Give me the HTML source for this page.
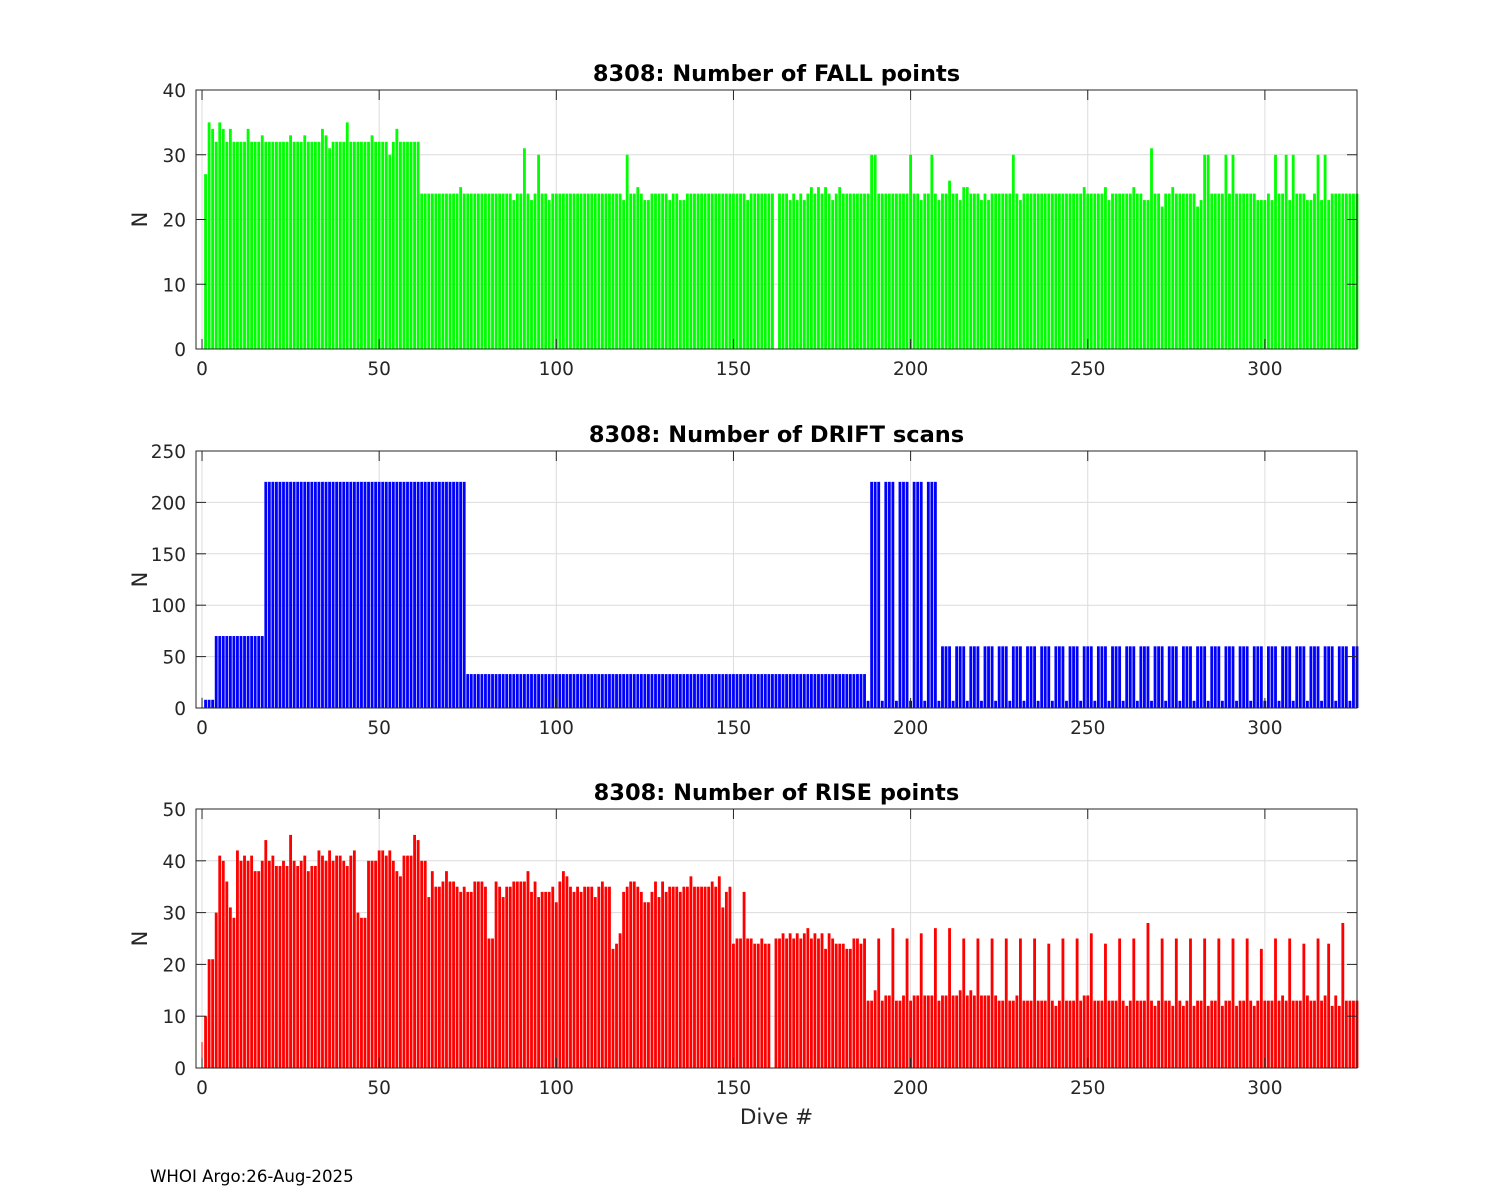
<!DOCTYPE html>
<html><head><meta charset="utf-8">
<style>
html,body{margin:0;padding:0;background:#fff;}
svg{display:block;font-family:"DejaVu Sans","Liberation Sans",sans-serif;}
</style></head>
<body>
<svg id="fig" width="1500" height="1200" viewBox="0 0 1500 1200" xmlns="http://www.w3.org/2000/svg">
<rect width="1500" height="1200" fill="#fff"/>
<text x="150" y="1182" font-size="16.6" fill="#000">WHOI Argo:26-Aug-2025</text>
</svg>
<script>
const xTicks = [0,50,100,150,200,250,300];
const fallTicks = [0,10,20,30,40];
const driftTicks = [0,50,100,150,200,250];
const riseTicks = [0,10,20,30,40,50];

const fallValues = [
0,27,35,34,32,35,34,32,34,32,32,32,32,34,32,32,32,33,32,32,
32,32,32,32,32,33,32,32,32,33,32,32,32,32,34,33,31,32,32,32,
32,35,32,32,32,32,32,32,33,32,32,32,32,30,32,34,32,32,32,32,
32,32,24,24,24,24,24,24,24,24,24,24,24,25,24,24,24,24,24,24,
24,24,24,24,24,24,24,24,23,24,24,31,24,23,24,30,24,24,23,24,
24,24,24,24,24,24,24,24,24,24,24,24,24,24,24,24,24,24,24,23,
30,24,24,25,24,23,23,24,24,24,24,24,23,24,24,23,23,24,24,24,
24,24,24,24,24,24,24,24,24,24,24,24,24,24,23,24,24,24,24,24,
24,24,0,24,24,24,23,24,23,24,23,24,25,24,25,24,25,24,23,24,
25,24,24,24,24,24,24,24,24,30,30,24,24,24,24,24,24,24,24,24,
30,24,24,23,24,24,30,24,23,24,24,26,24,24,23,25,25,24,24,24,
23,24,23,24,24,24,24,24,24,30,24,23,24,24,24,24,24,24,24,24,
24,24,24,24,24,24,24,24,24,25,24,24,24,24,24,25,23,24,24,24,
24,24,24,25,24,24,23,23,31,24,24,22,24,24,25,24,24,24,24,24,
24,22,23,30,30,24,24,24,24,30,24,30,24,24,24,24,24,24,23,23,
23,24,23,30,24,24,30,23,30,24,24,24,23,23,24,30,23,30,23,24,
24,24,24,24,24,24,24];

const driftValues = [
10,8,8,8,70,70,70,70,70,70,70,70,70,70,70,70,70,70,220,220,
220,220,220,220,220,220,220,220,220,220,220,220,220,220,220,220,220,220,220,220,
220,220,220,220,220,220,220,220,220,220,220,220,220,220,220,220,220,220,220,220,
220,220,220,220,220,220,220,220,220,220,220,220,220,220,220,33,33,33,33,33,
33,33,33,33,33,33,33,33,33,33,33,33,33,33,33,33,33,33,33,33,
33,33,33,33,33,33,33,33,33,33,33,33,33,33,33,33,33,33,33,33,
33,33,33,33,33,33,33,33,33,33,33,33,33,33,33,33,33,33,33,33,
33,33,33,33,33,33,33,33,33,33,33,33,33,33,33,33,33,33,33,33,
33,33,33,33,33,33,33,33,33,33,33,33,33,33,33,33,33,33,33,33,
33,33,33,33,33,33,33,33,7,220,220,220,7,220,220,220,7,220,220,220,
7,220,220,220,7,220,220,220,7,60,60,60,7,60,60,60,7,60,60,60,
7,60,60,60,7,60,60,60,7,60,60,60,7,60,60,60,7,60,60,60,
7,60,60,60,7,60,60,60,7,60,60,60,7,60,60,60,7,60,60,60,
7,60,60,60,7,60,60,60,7,60,60,60,7,60,60,60,7,60,60,60,
7,60,60,60,7,60,60,60,7,60,60,60,7,60,60,60,7,60,60,60,
7,60,60,60,7,60,60,60,7,60,60,60,7,60,60,60,7,60,60,60,
7,60,60,60,7,60,60];

const riseValues = [
5,10,21,21,30,41,40,36,31,29,42,40,41,40,41,38,38,40,44,40,
41,39,39,40,39,45,40,39,40,41,38,39,39,42,41,40,42,40,41,41,
40,39,41,42,30,29,29,40,40,40,42,42,41,42,40,38,37,41,41,41,
45,44,40,40,33,38,35,35,36,38,36,36,35,34,35,34,34,36,36,36,
35,25,25,36,35,33,35,35,36,36,36,36,38,34,36,33,34,34,34,35,
32,36,38,37,35,34,35,34,35,35,35,33,35,36,35,35,23,24,26,34,
35,36,36,35,34,32,32,34,36,33,36,34,35,35,35,34,35,35,37,35,
35,35,35,35,36,35,37,31,34,35,24,25,25,34,25,25,24,24,25,24,
24,0,25,25,26,25,26,25,26,25,26,27,25,26,25,26,23,26,25,24,
24,24,23,23,25,25,24,25,13,13,15,25,13,14,14,27,13,13,14,25,
13,14,14,26,14,14,14,27,13,14,14,27,14,14,15,25,14,15,14,25,
14,14,14,25,14,13,13,25,13,13,14,25,13,13,13,25,13,13,13,24,
13,12,13,25,13,13,13,25,13,14,14,26,13,13,13,24,13,13,13,25,
13,12,13,25,13,13,13,28,13,12,13,25,13,13,12,25,13,12,13,25,
12,13,13,25,12,13,13,25,12,13,13,25,12,13,13,25,13,12,13,23,
13,13,13,25,13,14,13,25,13,13,13,24,14,13,13,25,13,14,24,12,
14,12,28,13,13,13,13];

const NS = "http://www.w3.org/2000/svg";
const svg = document.getElementById('fig');
const X0 = 196, X1 = 1357, XMIN = -1.7, XMAX = 326;
function xScale(v){ return X0 + (v - XMIN) / (XMAX - XMIN) * (X1 - X0); }
function mk(tag, attrs){ const e = document.createElementNS(NS, tag); for (const k in attrs) e.setAttribute(k, attrs[k]); return e; }

function panel(name, top, bottom, ymax, yTicks, values, color, title, showXLabel){
  const g = mk('g', {});
  
  
  svg.appendChild(g);
  const yScale = v => bottom - v / ymax * (bottom - top);
  xTicks.forEach(t => {
    const l = mk('line', {x1:xScale(t), x2:xScale(t), y1:top, y2:bottom, stroke:'#dcdcdc', 'stroke-width':1});
    
    
    g.appendChild(l);
  });
  yTicks.forEach(t => {
    const l = mk('line', {x1:X0, x2:X1, y1:yScale(t), y2:yScale(t), stroke:'#dcdcdc', 'stroke-width':1});
    
    
    g.appendChild(l);
  });
  const bw = 0.8 * (X1 - X0) / (XMAX - XMIN);
  values.forEach((v, i) => {
    if (v <= 0) return;
    const w = i === 0 ? 1 : bw;
    const r = mk('rect', {x:(xScale(i) - w/2).toFixed(2), y:yScale(v).toFixed(2), width:w.toFixed(2), height:(bottom - yScale(v)).toFixed(2), fill:(i === 0 && name !== 'rise') ? '#444' : color});
    
    
    g.appendChild(r);
  });
  const box = mk('rect', {x:X0, y:top, width:X1-X0, height:bottom-top, fill:'none', stroke:'#262626', 'stroke-width':1});
  
  
  g.appendChild(box);
  xTicks.forEach(t => {
    const x = xScale(t);
    g.appendChild(mk('line', {x1:x, x2:x, y1:bottom, y2:bottom-10, stroke:'#262626'}));
    g.appendChild(mk('line', {x1:x, x2:x, y1:top, y2:top+10, stroke:'#262626'}));
    const tx = mk('text', {x:x, y:bottom+26, 'font-size':18.5, fill:'#262626', 'text-anchor':'middle'});
    
    
    tx.textContent = t;
    g.appendChild(tx);
  });
  yTicks.forEach(t => {
    const y = yScale(t);
    g.appendChild(mk('line', {x1:X0, x2:X0+10, y1:y, y2:y, stroke:'#262626'}));
    g.appendChild(mk('line', {x1:X1, x2:X1-10, y1:y, y2:y, stroke:'#262626'}));
    const tx = mk('text', {x:X0-10, y:y+7, 'font-size':18.5, fill:'#262626', 'text-anchor':'end'});
    
    
    tx.textContent = t;
    g.appendChild(tx);
  });
  const yl = mk('text', {x:0, y:0, 'font-size':21, fill:'#262626', 'text-anchor':'middle', transform:`translate(147,${(top+bottom)/2}) rotate(-90)`});
  
  
  yl.textContent = 'N';
  g.appendChild(yl);
  const tt = mk('text', {x:(X0+X1)/2, y:top-9, 'font-size':22.5, 'font-weight':'bold', fill:'#000', 'text-anchor':'middle'});
  
  
  tt.textContent = title;
  g.appendChild(tt);
  if (showXLabel){
    const xl = mk('text', {x:(X0+X1)/2, y:bottom+56, 'font-size':21.5, fill:'#262626', 'text-anchor':'middle'});
    
    
    xl.textContent = 'Dive #';
    g.appendChild(xl);
  }
}
panel('fall', 90, 349, 40, fallTicks, fallValues, '#00ff00', '8308: Number of FALL points', false);
panel('drift', 451, 708, 250, driftTicks, driftValues, '#0000ff', '8308: Number of DRIFT scans', false);
panel('rise', 809, 1068, 50, riseTicks, riseValues, '#ff0000', '8308: Number of RISE points', true);
</script>
</body></html>
